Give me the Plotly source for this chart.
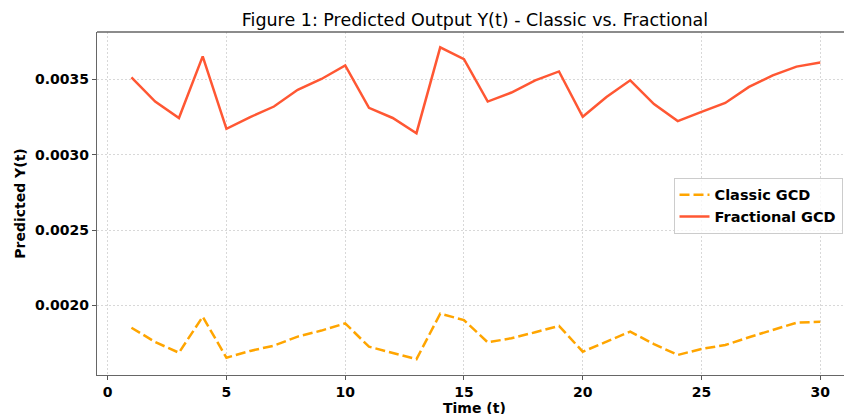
import plotly.graph_objects as go

t = list(range(1, 31))
classic_gcd = [0.001851, 0.001756, 0.001685, 0.001924, 0.001652, 0.001697, 0.001732, 0.001792,
               0.001832, 0.001880, 0.001725, 0.001682, 0.001642, 0.001944, 0.001902, 0.001754,
               0.001781, 0.001821, 0.001863, 0.001692, 0.001758, 0.001825, 0.001742, 0.001670,
               0.001710, 0.001736, 0.001788, 0.001836, 0.001884, 0.001891]
fractional_gcd = [0.003513, 0.003353, 0.003244, 0.003653, 0.003172, 0.003250, 0.003320, 0.003431,
                  0.003503, 0.003593, 0.003311, 0.003244, 0.003143, 0.003713, 0.003635, 0.003353,
                  0.003413, 0.003494, 0.003553, 0.003252, 0.003383, 0.003494, 0.003336, 0.003223,
                  0.003285, 0.003344, 0.003450, 0.003527, 0.003585, 0.003612]

FONT = "DejaVu Sans"

fig = go.Figure()
fig.add_trace(go.Scatter(x=t, y=classic_gcd, mode="lines", name="Classic GCD",
                         line=dict(color="#FFA500", width=2.5, dash="10px,4px")))
fig.add_trace(go.Scatter(x=t, y=fractional_gcd, mode="lines", name="Fractional GCD",
                         line=dict(color="#FF5733", width=2.5)))

axis_common = dict(
    showline=True, linecolor="#666666", linewidth=1.3,
    ticks="outside", ticklen=4, tickwidth=1.2, tickcolor="#555555",
    showgrid=True, gridcolor="#d8d8d8", gridwidth=1, griddash="2px,2px",
    zeroline=False, automargin=False,
    tickfont=dict(family=FONT, size=14, color="black", weight="bold"),
)

fig.update_xaxes(range=[-0.45, 31.0], dtick=5, tick0=0, **axis_common)
fig.update_yaxes(range=[0.001537, 0.003815], dtick=0.0005, tick0=0, tickformat=".4f",
                 title=dict(text="Predicted Y(t)", font=dict(family=FONT, size=14, color="black", weight="bold"),
                            standoff=6),
                 **axis_common)

fig.add_shape(type="line", xref="paper", yref="paper", x0=0, x1=1, y0=1, y1=1,
              line=dict(color="#666666", width=1.3))

fig.add_annotation(text="Time (t)", xref="paper", yref="paper", x=0.506, y=-0.066,
                   xanchor="center", yanchor="top", showarrow=False,
                   font=dict(family=FONT, size=14, color="black", weight="bold"))

fig.update_layout(
    width=844, height=414,
    margin=dict(l=97, r=0, t=32, b=39),
    paper_bgcolor="white", plot_bgcolor="white",
    title=dict(text="Figure 1: Predicted Output Y(t) - Classic vs. Fractional",
               font=dict(family=FONT, size=17.5, color="black"),
               x=0.506, xref="paper", xanchor="center",
               y=1, yref="paper", yanchor="bottom", pad=dict(b=6), automargin=False),
    legend=dict(x=0.998, xanchor="right", y=0.575, yanchor="top",
                bgcolor="rgba(255,255,255,0.8)", bordercolor="#cccccc", borderwidth=1,
                font=dict(family=FONT, size=14.5, color="black", weight="bold"),
                tracegroupgap=0),
    showlegend=True,
)

fig.write_html("out.html")
